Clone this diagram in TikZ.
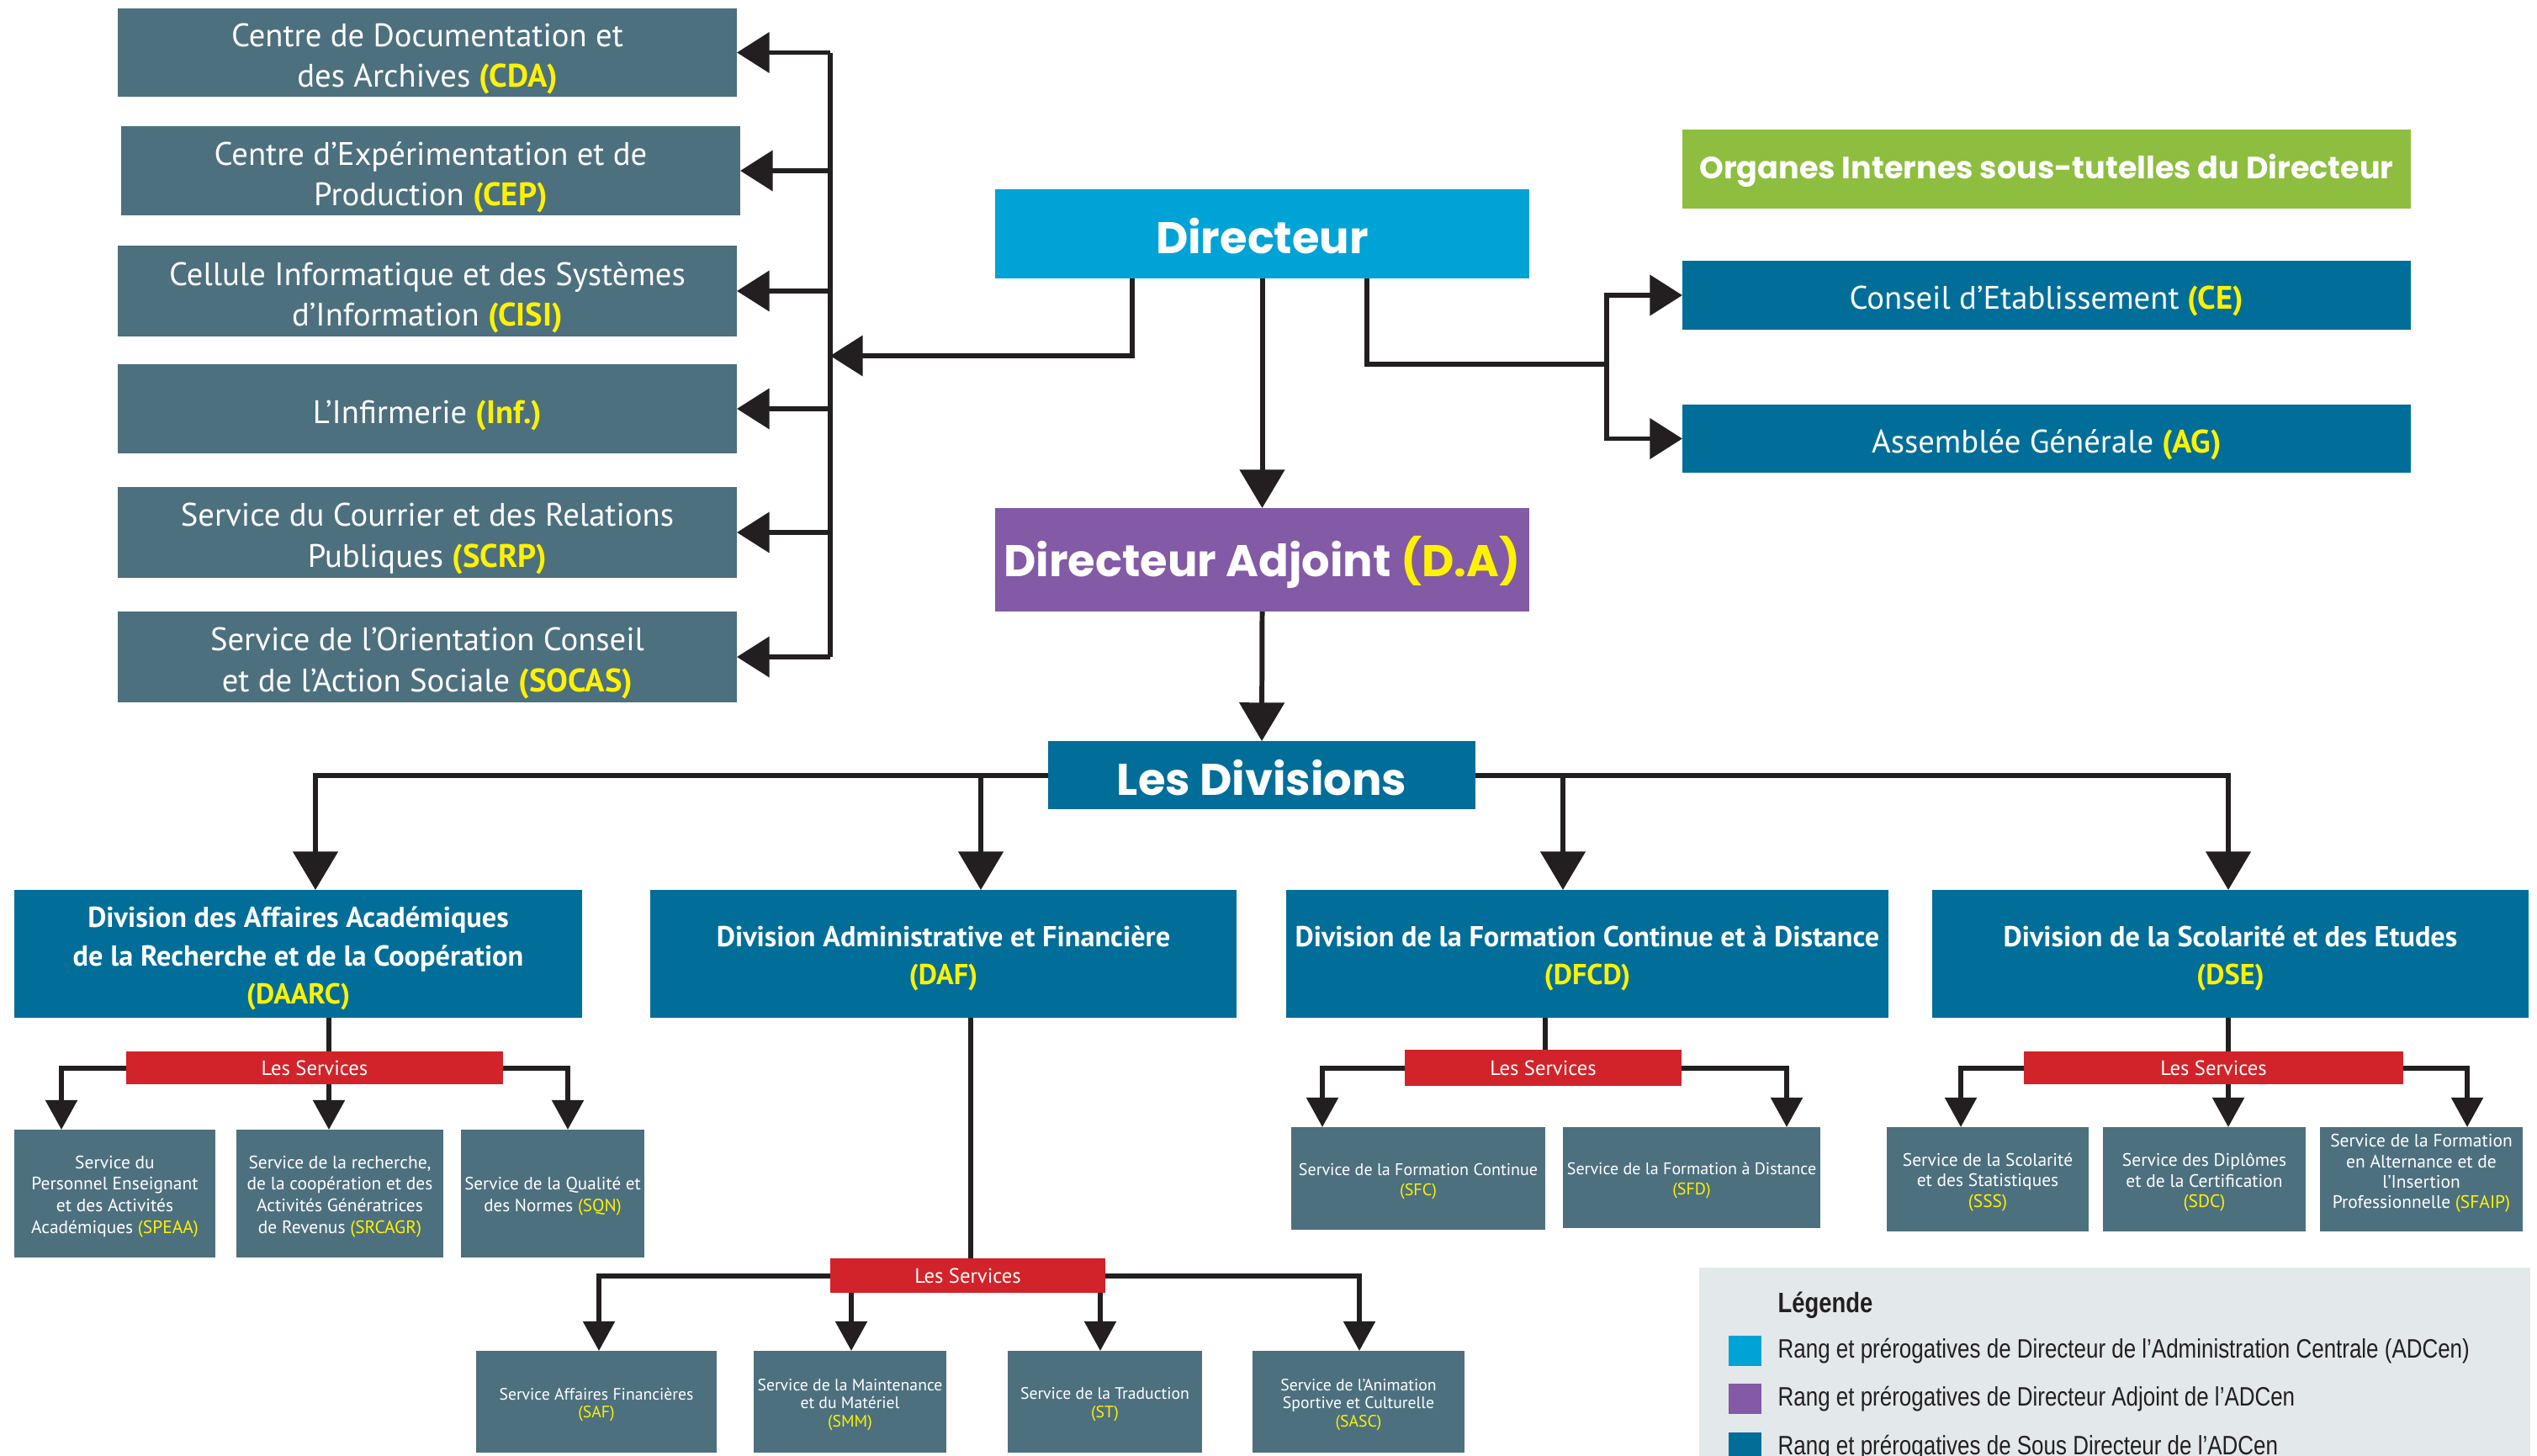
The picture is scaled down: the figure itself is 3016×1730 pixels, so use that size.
\documentclass[tikz,border=0pt]{standalone}
\usepackage{fontspec}
\setmainfont{PT Sans}
\newfontfamily\geo{Poppins}
\newfontfamily\arl{Liberation Sans}[FakeStretch=0.82]
\usetikzlibrary{arrows.meta,calc}
\definecolor{slate}{RGB}{77,112,127}
\definecolor{dircyan}{RGB}{0,163,214}
\definecolor{dapurple}{RGB}{130,90,166}
\definecolor{sdblue}{RGB}{0,110,153}
\definecolor{orggreen}{RGB}{141,190,64}
\definecolor{svred}{RGB}{210,35,42}
\definecolor{yel}{RGB}{255,242,0}
\definecolor{legbg}{RGB}{227,232,234}
\definecolor{ink}{RGB}{35,31,32}
\newcommand\yb[1]{\textcolor{yel}{\bfseries #1}}
\newcommand\yr[1]{\textcolor{yel}{#1}}
% style, name, x1, y1, x2, y2, text  (pixel coordinates)
\newcommand\bx[7]{%
  \node[#1, minimum width={(#5-#3)*0.01cm}, minimum height={(#6-#4)*0.01cm}] (#2) at ({(#3+#5)/2},{(#4+#6)/2}) {};
  \node[#1, fill=none, tshift] (#2t) at (#2.center) {#7};}
\begin{document}
\begin{tikzpicture}[x=0.01cm,y=-0.01cm,
  tshift/.style={},
  bxbase/.style={inner sep=0pt, outer sep=0pt, align=center, text=white},
  lbox/.style={bxbase, fill=slate, font=\fontsize{11}{13.7}\selectfont, tshift/.style={yshift=-0.075cm}},
  tbox/.style={bxbase, fill=sdblue, font=\fontsize{11}{13.7}\selectfont, tshift/.style={yshift=-0.07cm}},
  svbox/.style={bxbase, fill=slate, font=\fontsize{6}{7}\selectfont, tshift/.style={yshift=-0.035cm}},
  divbox/.style={bxbase, fill=sdblue, font=\bfseries\fontsize{9.75}{13}\selectfont, tshift/.style={yshift=-0.055cm}},
  redbox/.style={bxbase, fill=svred, font=\fontsize{7}{8}\selectfont},
  geobox/.style={bxbase, font=\geo\bfseries\fontsize{15}{18}\selectfont, tshift/.style={yshift=-0.03cm}},
  sq/.style={inner sep=0pt, outer sep=0pt},
  legtxt/.style={anchor=west, inner sep=0pt, text=ink, font=\arl\fontsize{9}{10}\selectfont},
  conn/.style={draw=ink, line width=1.7pt},
  bigarr/.style={conn, -{Triangle[length=13pt,width=15pt]}},
  midarr/.style={conn, -{Triangle[length=11pt,width=13.5pt]}},
  smarr/.style={conn, -{Triangle[length=10pt,width=10.5pt]}}
]
\useasboundingbox (0,0) rectangle (3016,1730);

% ---- left column
\bx{lbox}{CDA}{140}{10}{876}{115}{Centre de Documentation et\\des Archives \yb{(CDA)}}
\bx{lbox}{CEP}{144}{150}{880}{256}{Centre d’Expérimentation et de\\Production \yb{(CEP)}}
\bx{lbox}{CISI}{140}{292}{876}{400}{Cellule Informatique et des Systèmes\\d’Information \yb{(CISI)}}
\bx{lbox}{INF}{140}{433}{876}{539}{L’Infirmerie \yb{(Inf.)}}
\bx{lbox}{SCRP}{140}{579}{876}{687}{Service du Courrier et des Relations\\Publiques \yb{(SCRP)}}
\bx{lbox}{SOCAS}{140}{727}{876}{835}{Service de l’Orientation Conseil\\et de l’Action Sociale \yb{(SOCAS)}}

% ---- top centre
\bx{geobox, fill=dircyan}{D}{1183}{225}{1818}{331}{Directeur}
\bx{geobox, fill=dapurple}{DA}{1183}{604}{1818}{727}{Directeur Adjoint \textcolor{yel}{(D.A)}}
\bx{bxbase, fill=orggreen, font=\geo\bfseries\fontsize{10.4}{13}\selectfont, tshift/.style={yshift=-0.02cm}}{ORG}{2000}{154}{2866}{248}{Organes Internes sous-tutelles du Directeur}
\bx{tbox}{CE}{2000}{310}{2866}{392}{Conseil d’Etablissement \yb{(CE)}}
\bx{tbox}{AG}{2000}{481}{2866}{562}{Assemblée Générale \yb{(AG)}}
\bx{geobox, fill=sdblue}{LD}{1246}{881}{1754}{962}{Les Divisions}

% ---- divisions
\bx{divbox}{DAARC}{17}{1058}{692}{1210}{Division des Affaires Académiques\\de la Recherche et de la Coopération\\\textcolor{yel}{(DAARC)}}
\bx{divbox}{DAF}{773}{1058}{1470}{1210}{Division Administrative et Financière\\\textcolor{yel}{(DAF)}}
\bx{divbox}{DFCD}{1529}{1058}{2245}{1210}{Division de la Formation Continue et à Distance\\\textcolor{yel}{(DFCD)}}
\bx{divbox}{DSE}{2297}{1058}{3006}{1210}{Division de la Scolarité et des Etudes\\\textcolor{yel}{(DSE)}}

% ---- "Les Services" labels
\bx{redbox}{RA}{150}{1250}{598}{1289}{Les Services}
\bx{redbox}{RB}{987}{1496}{1314}{1537}{Les Services}
\bx{redbox}{RC}{1670}{1248}{1999}{1291}{Les Services}
\bx{redbox}{RD}{2406}{1250}{2857}{1289}{Les Services}

% ---- services DAARC
\bx{svbox, font=\fontsize{6.1}{7.3}\selectfont}{SPEAA}{17}{1343}{256}{1495}{Service du\\Personnel Enseignant\\et des Activités\\Académiques \yr{(SPEAA)}}
\bx{svbox, font=\fontsize{6.1}{7.3}\selectfont}{SRCAGR}{281}{1343}{527}{1495}{Service de la recherche,\\de la coopération et des\\Activités Génératrices\\de Revenus \yr{(SRCAGR)}}
\bx{svbox, font=\fontsize{6.0}{7.3}\selectfont}{SQN}{548}{1343}{766}{1495}{Service de la Qualité et\\des Normes \yr{(SQN)}}
% ---- services DAF
\bx{svbox, font=\fontsize{5.6}{6.2}\selectfont}{SAF}{566}{1606}{852}{1727}{Service Affaires Financières\\\yr{(SAF)}}
\bx{svbox, font=\fontsize{5.6}{6.2}\selectfont}{SMM}{896}{1606}{1125}{1727}{Service de la Maintenance\\et du Matériel\\\yr{(SMM)}}
\bx{svbox, font=\fontsize{5.6}{6.2}\selectfont}{ST}{1198}{1606}{1429}{1727}{Service de la Traduction\\\yr{(ST)}}
\bx{svbox, font=\fontsize{5.6}{6.2}\selectfont}{SASC}{1489}{1606}{1741}{1727}{Service de l’Animation\\Sportive et Culturelle\\\yr{(SASC)}}
% ---- services DFCD
\bx{svbox, font=\fontsize{5.7}{6.6}\selectfont}{SFC}{1535}{1340}{1837}{1462}{Service de la Formation Continue\\\yr{(SFC)}}
\bx{svbox, font=\fontsize{5.7}{6.6}\selectfont}{SFD}{1858}{1340}{2164}{1460}{Service de la Formation à Distance\\\yr{(SFD)}}
% ---- services DSE
\bx{svbox, font=\fontsize{6.1}{6.9}\selectfont}{SSS}{2243}{1340}{2483}{1464}{Service de la Scolarité\\et des Statistiques\\\yr{(SSS)}}
\bx{svbox, font=\fontsize{6.1}{6.9}\selectfont}{SDC}{2500}{1340}{2741}{1464}{Service des Diplômes\\et de la Certification\\\yr{(SDC)}}
\bx{svbox, font=\fontsize{6.1}{6.9}\selectfont, tshift/.style={yshift=0.07cm}}{SFAIP}{2758}{1340}{2999}{1464}{Service de la Formation\\en Alternance et de\\l’Insertion\\Professionnelle \yr{(SFAIP)}}

% ---- legend
\bx{sq, fill=legbg}{LEG}{2020}{1507}{3008}{1760}{}
\node[legtxt, font=\arl\bfseries\fontsize{9.5}{10}\selectfont] (LT0) at (2113,1552) {Légende};
\bx{sq, fill=dircyan}{LQ1}{2055}{1588}{2094}{1624}{}
\bx{sq, fill=dapurple}{LQ2}{2055}{1645}{2094}{1681}{}
\bx{sq, fill=sdblue}{LQ3}{2055}{1703}{2094}{1739}{}
\node[legtxt] (LT1) at (2113,1606) {Rang et prérogatives de Directeur de l’Administration Centrale (ADCen)};
\node[legtxt] (LT2) at (2113,1663) {Rang et prérogatives de Directeur Adjoint de l’ADCen};
\node[legtxt] (LT3) at (2113,1721) {Rang et prérogatives de Sous Directeur de l’ADCen};

% ---- connectors: Directeur to left column
\coordinate (BUSM) at (987,423);
\draw[conn] (987,0 |- CDA.east) -- (987,0 |- SOCAS.east);
\foreach \n in {CDA,CEP,CISI,INF,SCRP,SOCAS}
  \draw[midarr] (987,0 |- \n.east) -- (\n.east);
\draw[midarr] (1346,0 |- D.south) |- (BUSM);

% ---- Directeur to organs
\coordinate (RJ) at (1910,433);
\draw[conn] (1625,0 |- D.south) |- (RJ);
\draw[midarr] (RJ) |- (CE.west);
\draw[midarr] (RJ) |- (AG.west);

% ---- main vertical chain
\draw[bigarr] (D.south) -- (DA.north);
\draw[bigarr] (DA.south) -- (LD.north);

% ---- divisions
\draw[bigarr] (LD.west) -| (375,0 |- DAARC.north);
\draw[bigarr] (1166,0 |- LD.west) -- (1166,0 |- DAF.north);
\draw[bigarr] (1858,0 |- LD.east) -- (1858,0 |- DFCD.north);
\draw[bigarr] (LD.east) -| (2649,0 |- DSE.north);

% ---- DAARC services
\draw[conn] (391,0 |- DAARC.south) -- (391,0 |- RA.north);
\draw[smarr] (RA.west) -| (73,0 |- SPEAA.north);
\draw[smarr] (391,0 |- RA.south) -- (391,0 |- SRCAGR.north);
\draw[smarr] (RA.east) -| (675,0 |- SQN.north);

% ---- DAF services
\draw[conn] (1154,0 |- DAF.south) -- (1154,0 |- RB.north);
\draw[smarr] (RB.west) -| (712,0 |- SAF.north);
\draw[smarr] (1012,0 |- RB.south) -- (1012,0 |- SMM.north);
\draw[smarr] (1308,0 |- RB.south) -- (1308,0 |- ST.north);
\draw[smarr] (RB.east) -| (1616,0 |- SASC.north);

% ---- DFCD services
\draw[conn] (1837,0 |- DFCD.south) -- (1837,0 |- RC.north);
\draw[smarr] (RC.west) -| (1572,0 |- SFC.north);
\draw[smarr] (RC.east) -| (2124,0 |- SFD.north);

% ---- DSE services
\draw[conn] (2649,0 |- DSE.south) -- (2649,0 |- RD.north);
\draw[smarr] (RD.west) -| (2331,0 |- SSS.north);
\draw[smarr] (2649,0 |- RD.south) -- (2649,0 |- SDC.north);
\draw[smarr] (RD.east) -| (2933,0 |- SFAIP.north);
\end{tikzpicture}
\end{document}
